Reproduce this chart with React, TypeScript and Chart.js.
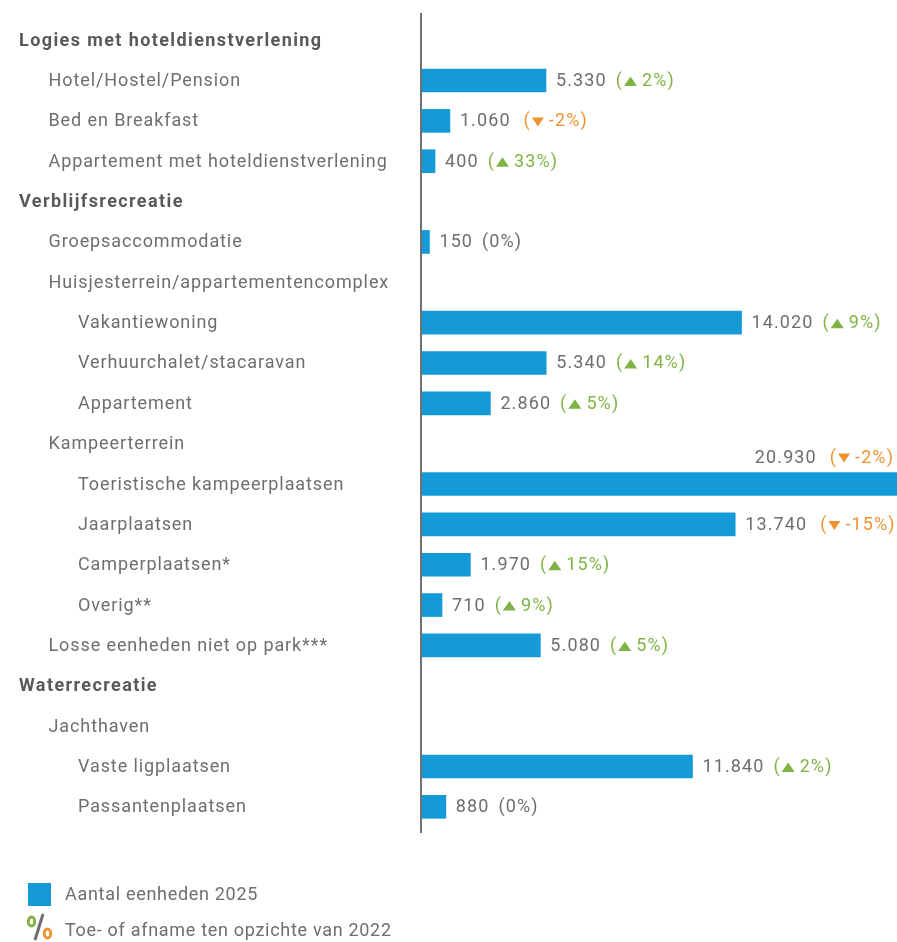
import React, { useEffect, useRef } from 'react';
import { Chart, registerables } from 'chart.js';
Chart.register(...registerables);

const categories = [
  'Logies met hoteldienstverlening',
  'Hotel/Hostel/Pension',
  'Bed en Breakfast',
  'Appartement met hoteldienstverlening',
  'Verblijfsrecreatie',
  'Groepsaccommodatie',
  'Huisjesterrein/appartementencomplex',
  'Vakantiewoning',
  'Verhuurchalet/stacaravan',
  'Appartement',
  'Kampeerterrein',
  'Toeristische kampeerplaatsen',
  'Jaarplaatsen',
  'Camperplaatsen*',
  'Overig**',
  'Losse eenheden niet op park***',
  'Waterrecreatie',
  'Jachthaven',
  'Vaste ligplaatsen',
  'Passantenplaatsen',
];
const levels = [0, 1, 1, 1, 0, 1, 1, 2, 2, 2, 1, 2, 2, 2, 2, 1, 0, 1, 2, 2];
const units2025: (number | null)[] = [null, 5330, 1060, 400, null, 150, null, 14020, 5340, 2860, null, 20930, 13740, 1970, 710, 5080, null, null, 11840, 880];
const change2022: (number | null)[] = [null, 2, -2, 33, null, 0, null, 9, 14, 5, null, -2, -15, 15, 9, 5, null, null, 2, 0];
const legendLabels = ['Aantal eenheden 2025', 'Toe- of afname ten opzichte van 2022'];

const BLUE = '#159ad8';
const GREEN = '#7fb444';
const ORANGE = '#ef9330';
const GRAY = '#6d6e71';
const DARK = '#58595b';
const FONT = 'Roboto, "DejaVu Sans", sans-serif';

const fmt = (n: number) => String(n).replace(/\B(?=(\d{3})+(?!\d))/g, '.');

const overlay = {
  id: 'overlay',
  afterDatasetsDraw(chart: any) {
    const { ctx, chartArea, scales } = chart;
    const ys = scales.y;
    const meta = chart.getDatasetMeta(0);
    ctx.save();
    // axis line
    ctx.fillStyle = '#717175';
    ctx.fillRect(chartArea.left - 2, chartArea.top - 7, 2, chartArea.bottom - chartArea.top + 13);

    categories.forEach((c, i) => {
      const yc = ys.getPixelForValue(i);
      ctx.textBaseline = 'middle';
      ctx.textAlign = 'left';
      if (levels[i] === 0) {
        ctx.letterSpacing = '1.4px';
        ctx.font = 'bold 18px ' + FONT;
        ctx.fillStyle = DARK;
      } else {
        ctx.letterSpacing = '0.9px';
        ctx.font = '18px ' + FONT;
        ctx.fillStyle = GRAY;
      }
      ctx.fillText(c, 19 + levels[i] * 29.5, yc + 1);

      const v = units2025[i];
      if (v == null) return;
      const ch = change2022[i] as number;
      const bar = meta.data[i];
      ctx.font = '18px ' + FONT;
      ctx.letterSpacing = '1.1px';
      const numTxt = fmt(v);
      const wNum = ctx.measureText(numTxt).width;
      const rest = ch === 0 ? '(0%)' : `${ch}%)`;
      const wParen = ctx.measureText('(').width;
      const wRest = ctx.measureText(rest).width;
      const down = ch < 0;
      const gap = down ? 13 : 9;
      const wPct = ch === 0 ? wRest : wParen + 1 + 13 + (ch > 0 ? 5 : 4) + wRest;
      const total = wNum + gap + wPct;
      let x = bar.x + 10;
      let ty = yc + 1;
      if (x + total > chartArea.right) {
        x = chartArea.right - 3 - total;
        ty = yc - 26;
      }
      ctx.fillStyle = GRAY;
      ctx.fillText(numTxt, x, ty);
      x += wNum + gap;
      if (ch === 0) {
        ctx.fillStyle = GRAY;
        ctx.fillText(rest, x, ty);
      } else {
        const col = ch > 0 ? GREEN : ORANGE;
        ctx.fillStyle = col;
        ctx.fillText('(', x, ty);
        x += wParen + 1;
        ctx.beginPath();
        if (ch > 0) {
          ctx.moveTo(x, ty + 4.5);
          ctx.lineTo(x + 13, ty + 4.5);
          ctx.lineTo(x + 6.5, ty - 5);
        } else {
          ctx.moveTo(x, ty - 4.5);
          ctx.lineTo(x + 12, ty - 4.5);
          ctx.lineTo(x + 6, ty + 4.5);
        }
        ctx.closePath();
        ctx.fill();
        x += 13 + (ch > 0 ? 5 : 4);
        ctx.fillText(rest, x, ty);
      }
    });

    // legend
    ctx.letterSpacing = '0.7px';
    ctx.fillStyle = BLUE;
    ctx.fillRect(28, 883, 23, 23);
    ctx.font = '18px ' + FONT;
    ctx.fillStyle = GRAY;
    ctx.textAlign = 'left';
    ctx.textBaseline = 'middle';
    ctx.fillText(legendLabels[0], 65, 895);
    ctx.fillText(legendLabels[1], 65, 931.5);
    // % icon
    ctx.lineWidth = 3;
    ctx.strokeStyle = GREEN;
    ctx.beginPath();
    ctx.ellipse(31.5, 921.5, 3.2, 4.6, 0, 0, Math.PI * 2);
    ctx.stroke();
    ctx.strokeStyle = ORANGE;
    ctx.beginPath();
    ctx.ellipse(47.5, 933.5, 3.2, 4.6, 0, 0, Math.PI * 2);
    ctx.stroke();
    ctx.strokeStyle = GRAY;
    ctx.lineWidth = 3;
    ctx.beginPath();
    ctx.moveTo(43, 914);
    ctx.lineTo(35, 940);
    ctx.stroke();
    ctx.restore();
  },
};

export default function App() {
  const ref = useRef<HTMLCanvasElement>(null);
  useEffect(() => {
    if (!ref.current) return;
    const chart = new Chart(ref.current, {
      type: 'bar',
      data: {
        labels: categories,
        datasets: [
          {
            label: legendLabels[0],
            data: units2025 as any,
            backgroundColor: BLUE,
            barThickness: 23,
            base: -180,
          } as any,
        ],
      },
      options: {
        indexAxis: 'y',
        responsive: false,
        animation: false,
        devicePixelRatio: 1,
        layout: { padding: { left: 422, right: 0, top: 20, bottom: 115 } },
        scales: {
          x: { display: false, min: -180, max: 20930 },
          y: { display: false },
        },
        plugins: { legend: { display: false }, tooltip: { enabled: false } },
      },
      plugins: [overlay],
    });
    return () => chart.destroy();
  }, []);
  return (
    <div style={{ position: 'absolute', left: 0, top: 0, width: 897, height: 942, background: '#fff' }}>
      <canvas ref={ref} width={897} height={942} />
    </div>
  );
}
